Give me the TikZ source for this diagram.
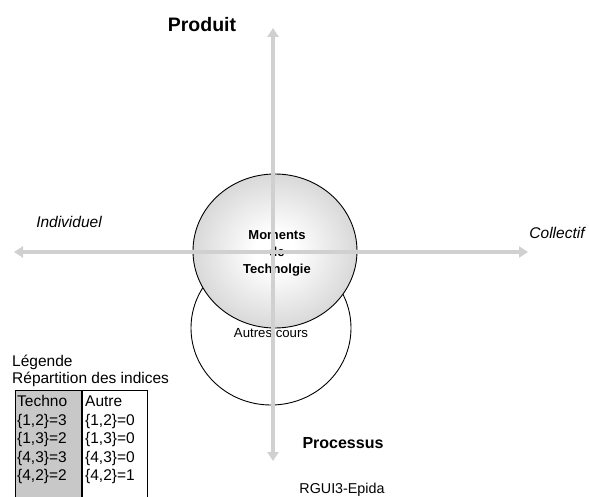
\documentclass[tikz,border=0pt]{standalone}
\usepackage{fontspec}
\setmainfont{Liberation Sans}
\usetikzlibrary{arrows.meta}
\pgfdeclareradialshading{circshade}{\pgfpoint{0bp}{0bp}}{color(0bp)=(white); color(6bp)=(white); color(25bp)=(black!15); color(50bp)=(black!15)}
\begin{document}
\begin{tikzpicture}[x=1pt,y=-1pt,
  axisline/.style={draw=axisgray, line width=4.5pt, {Triangle[width=11pt,length=9pt]}-{Triangle[width=11pt,length=9pt]}},
  lbl/.style={inner sep=0pt},
  cell/.style={inner sep=0pt, anchor=base west, font=\fontsize{15.5}{18}\selectfont},
  ]
\definecolor{axisgray}{HTML}{D0D0D0}
\definecolor{tabgray}{HTML}{C8C8C8}
\useasboundingbox (0,0) rectangle (589,497);
\fill[white] (0,0) rectangle (589,497);

% lower circle
\draw[black, line width=0.9pt] (271,328) ellipse [x radius=80, y radius=77];
\node[lbl, font=\fontsize{13.2}{15}\selectfont] (autres) at (271,333) {Autres cours};

% upper circle
\shade[shading=circshade] (275,251) ellipse [x radius=82, y radius=77];
\draw[black, line width=0.9pt] (275,251) ellipse [x radius=82, y radius=77];
\node[lbl, align=center, font=\bfseries\fontsize{13}{17}\selectfont] (moments) at (277,253) {Moments\\de\\Technolgie};

% axes
\coordinate (ytop) at (273,28);
\coordinate (ybot) at (273,461);
\coordinate (xleft) at (14,252);
\coordinate (xright) at (528,252);
\draw[axisline] (ybot) -- (ytop);
\draw[axisline] (xleft) -- (xright);

% labels
\node[lbl, font=\bfseries\fontsize{19.5}{22}\selectfont] (produit) at (202,25) {Produit};
\node[lbl, font=\bfseries\fontsize{16}{19}\selectfont] (processus) at (343,443) {Processus};
\node[lbl, font=\itshape\fontsize{15.5}{18}\selectfont] (indiv) at (69,222) {Individuel};
\node[lbl, font=\itshape\fontsize{15.5}{18}\selectfont] (coll) at (557,233) {Collectif};
\node[lbl, font=\fontsize{14.3}{17}\selectfont] (rgui) at (342,490) {RGUI3-Epida};

% legend
\node[cell] (leg1) at (12,366) {Légende};
\node[cell] (leg2) at (12,383) {Répartition des indices};
\fill[tabgray] (15,390) rectangle (82,500);
\draw[black, line width=0.8pt] (15,500) -- (15,390) -- (147,390) -- (147,500);
\draw[black, line width=1.6pt] (82,390) -- (82,500);
\node[cell] (t0) at (17,406) {Techno};
\node[cell] (t1) at (17,425) {\{1,2\}=3};
\node[cell] (t2) at (17,443) {\{1,3\}=2};
\node[cell] (t3) at (17,462) {\{4,3\}=3};
\node[cell] (t4) at (17,480) {\{4,2\}=2};
\node[cell] (a0) at (85,406) {Autre};
\node[cell] (a1) at (85,425) {\{1,2\}=0};
\node[cell] (a2) at (85,443) {\{1,3\}=0};
\node[cell] (a3) at (85,462) {\{4,3\}=0};
\node[cell] (a4) at (85,480) {\{4,2\}=1};
\end{tikzpicture}
\end{document}
